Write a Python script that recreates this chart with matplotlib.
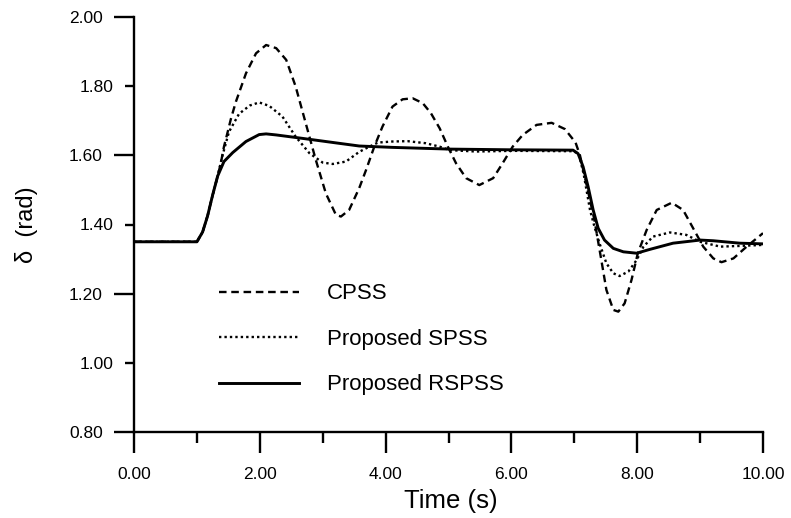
import matplotlib
matplotlib.use("Agg")
import matplotlib.pyplot as plt

plt.rcParams['font.family'] = ['Liberation Sans', 'DejaVu Sans']

# CPSS (dashed)
t_cpss = [0, 1.0, 1.09, 1.17, 1.25, 1.33, 1.38, 1.43, 1.49, 1.54, 1.62, 1.78, 1.94, 2.10,
          2.26, 2.42, 2.57, 2.73, 2.89, 3.05, 3.21, 3.29, 3.42, 3.58, 3.69, 3.82, 3.95,
          4.11, 4.27, 4.43, 4.59, 4.72, 4.86, 4.99, 5.12, 5.28, 5.49, 5.71, 5.86, 6.02,
          6.18, 6.40, 6.64, 6.85, 7.02, 7.09, 7.19, 7.32, 7.43, 7.51, 7.62, 7.70, 7.80,
          7.91, 8.01, 8.15, 8.31, 8.55, 8.73, 8.89, 9.05, 9.21, 9.34, 9.53, 9.74, 10.0]
v_cpss = [1.35, 1.35, 1.378, 1.425, 1.485, 1.54, 1.577, 1.625, 1.668, 1.705, 1.755, 1.837,
          1.895, 1.919, 1.910, 1.876, 1.799, 1.693, 1.587, 1.490, 1.428, 1.423, 1.442,
          1.505, 1.558, 1.625, 1.683, 1.741, 1.762, 1.765, 1.751, 1.722, 1.678, 1.625,
          1.577, 1.534, 1.514, 1.534, 1.577, 1.625, 1.659, 1.688, 1.694, 1.676, 1.637,
          1.600, 1.519, 1.413, 1.297, 1.211, 1.153, 1.148, 1.172, 1.240, 1.317, 1.384,
          1.442, 1.463, 1.442, 1.389, 1.336, 1.302, 1.291, 1.302, 1.336, 1.375]

# Proposed SPSS (dotted)
t_spss = [0, 1.0, 1.09, 1.17, 1.25, 1.33, 1.40, 1.51, 1.67, 1.84, 1.99, 2.15, 2.36, 2.57,
          2.79, 3.0, 3.16, 3.37, 3.58, 3.74, 3.88, 4.11, 4.35, 4.64, 4.86, 5.02, 5.44,
          6.02, 6.98, 7.07, 7.15, 7.25, 7.32, 7.40, 7.51, 7.62, 7.72, 7.86, 7.99, 8.10,
          8.25, 8.52, 8.78, 9.0, 9.32, 9.63, 10.0]
v_spss = [1.35, 1.35, 1.378, 1.425, 1.485, 1.54, 1.595, 1.668, 1.720, 1.744, 1.753, 1.743,
          1.712, 1.654, 1.606, 1.579, 1.575, 1.582, 1.610, 1.625, 1.637, 1.640, 1.641,
          1.635, 1.625, 1.615, 1.611, 1.613, 1.612, 1.605, 1.545, 1.442, 1.394, 1.346,
          1.288, 1.259, 1.251, 1.264, 1.297, 1.336, 1.365, 1.377, 1.370, 1.350, 1.336,
          1.338, 1.341]

# Proposed RSPSS (solid)
t_rspss = [0, 1.0, 1.09, 1.17, 1.25, 1.33, 1.43, 1.57, 1.78, 1.99, 2.10, 2.26, 2.68, 3.21,
           3.58, 4.11, 5.02, 6.0, 6.98, 7.06, 7.14, 7.22, 7.30, 7.38, 7.48, 7.62, 7.78,
           7.99, 8.20, 8.57, 9.0, 9.21, 9.63, 10.0]
v_rspss = [1.35, 1.35, 1.378, 1.425, 1.485, 1.54, 1.582, 1.608, 1.640, 1.660, 1.662, 1.659,
           1.649, 1.636, 1.627, 1.623, 1.618, 1.616, 1.615, 1.605, 1.567, 1.509, 1.442,
           1.389, 1.355, 1.331, 1.321, 1.317, 1.328, 1.346, 1.355, 1.353, 1.346, 1.344]

labels = ['CPSS', 'Proposed SPSS', 'Proposed RSPSS']

x_major = [0, 2, 4, 6, 8, 10]
x_minor = [1, 3, 5, 7, 9]
x_major_labels = ['0.00', '2.00', '4.00', '6.00', '8.00', '10.00']
y_major = [0.8, 1.2, 1.6, 2.0]
y_major_labels = ['0.80', '1.20', '1.60', '2.00']
y_minor = [1.0, 1.4, 1.8]
y_minor_labels = ['1.00', '1.40', '1.80']

fig = plt.figure(figsize=(7.91, 5.18), dpi=100)
ax = fig.add_axes([134 / 791, 86 / 518, 629 / 791, 415 / 518])

ax.plot(t_cpss, v_cpss, color='black', lw=1.7, linestyle=(0, (3.2, 2.0)), label=labels[0])
ax.plot(t_spss, v_spss, color='black', lw=1.7, linestyle=(0, (1, 1.3)), label=labels[1])
ax.plot(t_rspss, v_rspss, color='black', lw=2.1, linestyle='-', label=labels[2])

ax.set_xlim(0, 10)
ax.set_ylim(0.8, 2.0)

ax.spines['top'].set_visible(False)
ax.spines['right'].set_visible(False)
ax.spines['left'].set_linewidth(1.7)
ax.spines['bottom'].set_linewidth(1.7)

ax.set_xticks(x_major)
ax.set_xticklabels(x_major_labels)
ax.set_xticks(x_minor, minor=True)
ax.set_yticks(y_major)
ax.set_yticklabels(y_major_labels)
ax.set_yticks(y_minor, minor=True)
ax.set_yticklabels(y_minor_labels, minor=True)

ax.tick_params(axis='x', which='major', direction='out', length=15, width=1.7, pad=10, labelsize=12.5)
ax.tick_params(axis='x', which='minor', direction='out', length=8, width=1.7)
ax.tick_params(axis='y', which='major', direction='out', length=14.5, width=1.7, pad=8, labelsize=12.5)
ax.tick_params(axis='y', which='minor', direction='out', length=6.5, width=1.7, pad=8, labelsize=12.5)

ax.set_xlabel('Time (s)', fontsize=18.5)
ax.xaxis.set_label_coords(0.504, -0.138)
ax.set_ylabel('δ  (rad)', fontsize=17)
ax.yaxis.set_label_coords(-0.153, 0.5)

ax.legend(loc='upper left', bbox_to_anchor=(0.135, 0.358), frameon=False, fontsize=16,
          handlelength=3.6, handletextpad=1.25, labelspacing=1.1, borderpad=0, borderaxespad=0)

fig.savefig('out.png', dpi=100)
